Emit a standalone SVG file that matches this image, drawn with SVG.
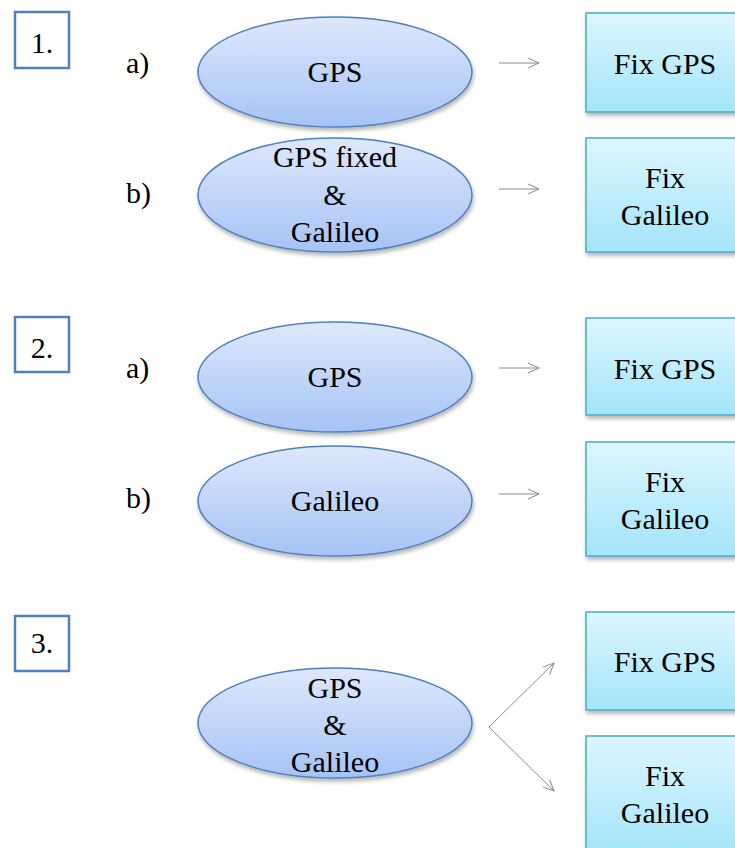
<svg xmlns="http://www.w3.org/2000/svg" width="735" height="848" viewBox="0 0 735 848">
<defs>
<linearGradient id="eg" x1="0" y1="0" x2="0" y2="1">
<stop offset="0" stop-color="#DEE8FC"/>
<stop offset="1" stop-color="#A6C3F5"/>
</linearGradient>
<linearGradient id="bg" x1="0" y1="0" x2="0" y2="1">
<stop offset="0" stop-color="#DDF6FE"/>
<stop offset="1" stop-color="#A3E5FA"/>
</linearGradient>
<filter id="sh" x="-10%" y="-10%" width="125%" height="130%">
<feGaussianBlur in="SourceAlpha" stdDeviation="2"/>
<feOffset dx="1" dy="3"/>
<feComponentTransfer><feFuncA type="linear" slope="0.3"/></feComponentTransfer>
<feMerge><feMergeNode/><feMergeNode in="SourceGraphic"/></feMerge>
</filter>
<marker id="ah" markerWidth="14" markerHeight="12" refX="12" refY="6" orient="auto" markerUnits="userSpaceOnUse">
<path d="M1,1 L12,6 L1,11" fill="none" stroke="#8c8c8c" stroke-width="1"/>
</marker>
</defs>
<style>
text{font-family:"Times New Roman","Liberation Serif",Times,serif;font-size:30px;fill:#000}
.c{text-anchor:middle}
.num{fill:#fff;stroke:#4F81BD;stroke-width:2.5}
.ell{fill:url(#eg);stroke:#4F81BD;stroke-width:1.5;filter:url(#sh)}
.box{fill:url(#bg);stroke:#4BACC6;stroke-width:1.5;filter:url(#sh)}
.con{stroke:#8c8c8c;stroke-width:1;fill:none;marker-end:url(#ah)}
</style>
<g id="num1"><rect class="num" x="15" y="12" width="54" height="56"/><text class="c" x="42" y="53">1.</text></g>
<g id="num2"><rect class="num" x="15" y="317" width="54" height="55"/><text class="c" x="42" y="358">2.</text></g>
<g id="num3"><rect class="num" x="15" y="616" width="54" height="55"/><text class="c" x="42" y="653">3.</text></g>
<g id="lbl1a"><text x="126" y="73">a)</text></g>
<g id="lbl1b"><text x="126" y="203">b)</text></g>
<g id="lbl2a"><text x="126" y="378">a)</text></g>
<g id="lbl2b"><text x="126" y="508">b)</text></g>
<g id="e1a"><ellipse class="ell" cx="335" cy="72" rx="137" ry="55"/><text class="c" x="335" y="82">GPS</text></g>
<g id="e1b"><ellipse class="ell" cx="335" cy="195" rx="137" ry="57"/><text class="c" x="335" y="167">GPS fixed</text><text class="c" x="335" y="205">&amp;</text><text class="c" x="335" y="242">Galileo</text></g>
<g id="e2a"><ellipse class="ell" cx="335" cy="377" rx="137" ry="55"/><text class="c" x="335" y="387">GPS</text></g>
<g id="e2b"><ellipse class="ell" cx="335" cy="501" rx="137" ry="55"/><text class="c" x="335" y="511">Galileo</text></g>
<g id="e3"><ellipse class="ell" cx="335" cy="723" rx="137" ry="55"/><text class="c" x="335" y="698">GPS</text><text class="c" x="335" y="735">&amp;</text><text class="c" x="335" y="772">Galileo</text></g>
<g id="b1a"><rect class="box" x="586" y="13" width="160" height="99"/><text class="c" x="665" y="74">Fix GPS</text></g>
<g id="b1b"><rect class="box" x="586" y="138" width="160" height="114"/><text class="c" x="665" y="188">Fix</text><text class="c" x="665" y="225">Galileo</text></g>
<g id="b2a"><rect class="box" x="586" y="318" width="160" height="97"/><text class="c" x="665" y="379">Fix GPS</text></g>
<g id="b2b"><rect class="box" x="586" y="442" width="160" height="114"/><text class="c" x="665" y="492">Fix</text><text class="c" x="665" y="529">Galileo</text></g>
<g id="b3a"><rect class="box" x="586" y="612" width="160" height="98"/><text class="c" x="665" y="672">Fix GPS</text></g>
<g id="b3b"><rect class="box" x="586" y="736" width="160" height="120"/><text class="c" x="665" y="786">Fix</text><text class="c" x="665" y="823">Galileo</text></g>
<g id="connectors">
<line class="con" x1="499" y1="63" x2="539" y2="63"/>
<line class="con" x1="499" y1="189" x2="539" y2="189"/>
<line class="con" x1="499" y1="368" x2="539" y2="368"/>
<line class="con" x1="499" y1="494" x2="539" y2="494"/>
<line class="con" x1="489" y1="727" x2="554" y2="663"/>
<line class="con" x1="489" y1="727" x2="554" y2="791"/>
</g>
</svg>
